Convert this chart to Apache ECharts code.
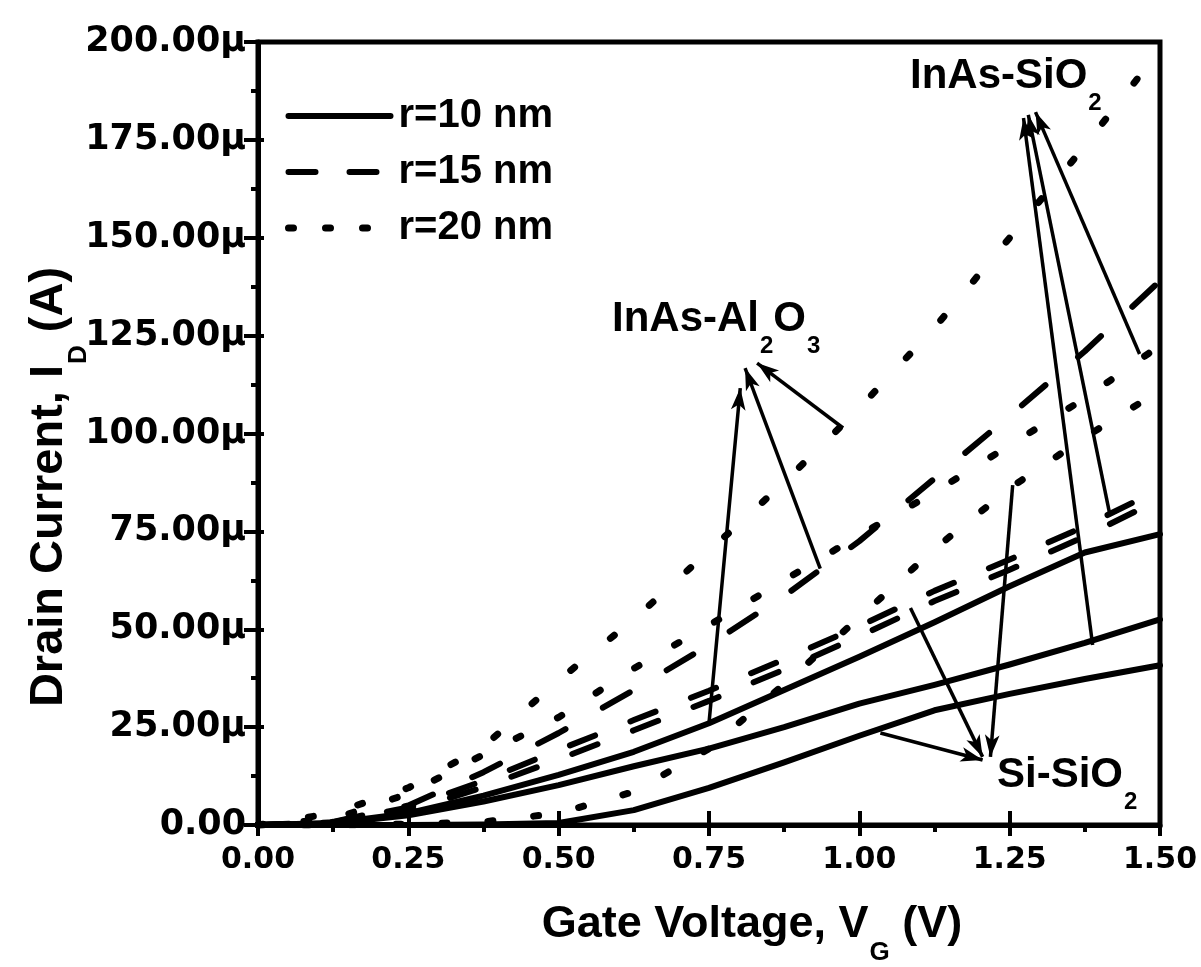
<!DOCTYPE html>
<html>
<head>
<meta charset="utf-8">
<title>Drain current vs gate voltage</title>
<script src="https://cdn.jsdelivr.net/npm/echarts@6/dist/echarts.min.js"></script>
<style>
  html, body { margin: 0; padding: 0; background: #fff; }
  #main { width: 1201px; height: 967px; }
</style>
</head>
<body>
<div id="main"></div>
<script>
// gate voltage (V), common for every curve
var vg = [0, 0.125, 0.25, 0.375, 0.5, 0.625, 0.75, 0.875, 1.0, 1.125, 1.25, 1.375, 1.5];

// drain current in uA
// r = 10 nm (solid)
var inasAl_r10 = [0, 0.5, 3, 7.5, 12.8, 18.7, 26, 34.5, 43, 51.8, 61, 69.6, 74.3];
var inasSi_r10 = [0, 0.4, 2.5, 6, 10.2, 15, 19.5, 25, 31, 35.8, 41, 46.5, 52.5];
var si_r10     = [0, 0, 0, 0.1, 0.5, 3.8, 9.5, 16, 22.8, 29.3, 33.5, 37.3, 40.8];
// r = 15 nm (dashed)
var inasAl_r15 = [0, 0.8, 5, 13.5, 23.5, 34.5, 46, 58.5, 72.5, 88.5, 104.5, 121, 139];
var inasSi_r15 = [0, 0.7, 4.5, 11.3, 19.2, 26.8, 34.3, 42.3, 50.8, 59.8, 67.8, 76.3, 85.8];
var si_r15     = [0, 0.5, 3.5, 9.7, 16.8, 24.2, 31.7, 39.7, 48.2, 57.2, 65.2, 73.7, 83.2];
// r = 20 nm (dotted)
var inasAl_r20 = [0, 3, 9.5, 20, 37, 52.5, 70, 87.5, 106.5, 127, 150, 173.5, 198];
var inasSi_r20 = [0, 1.5, 8, 18, 27.5, 40, 51, 62.5, 74, 85, 97, 109, 122.5];
var si_r20     = [0, 0, 0.2, 0.8, 3, 8.5, 19.5, 36, 53, 70.5, 86, 99, 111];

var legendNames = ['r=10 nm', 'r=15 nm', 'r=20 nm'];

// annotation arrows: [fromV, fromI, toV, toI]
var arrowsAl = [[0.75, 26, 0.802, 111.6], [0.935, 65.5, 0.81, 116.7], [0.973, 101.4, 0.83, 118]];
var arrowsInSi = [[1.388, 46, 1.273, 180.6], [1.416, 79.7, 1.281, 181.4], [1.466, 120.3, 1.293, 182.1]];
var arrowsSi = [[1.035, 23.5, 1.205, 16.6], [1.085, 55.4, 1.205, 17.4], [1.255, 86.8, 1.218, 17.4]];

var SOLID = 'solid';
var DASH_AL = [31, 43];
var DASH = [27, 38];
var DOT_AL = [5, 46];
var DOT = [5, 41];

var myChart = echarts.init(document.getElementById('main'));

function curve(name, vals, dash) {
	return {
		type: 'line',
		name: name,
		data: vg.map(function(v, i) { return [v, vals[i]]; }),
		symbol: 'none',
		silent: true,
		itemStyle: { color: '#000' },
		lineStyle: { color: '#000', width: (dash === DOT || dash === DOT_AL) ? 7 : 6, type: dash, cap: 'round', join: 'round' }
	};
}

var allArrows = arrowsAl.concat(arrowsInSi).concat(arrowsSi).map(function(a) {
	return [
		{ coord: [a[0], a[1]], symbol: 'none' },
		{ coord: [a[2], a[3]], symbol: 'arrow', symbolSize: [11, 22] }
	];
});

var series = [
	curve(legendNames[0], inasAl_r10, SOLID),
	curve(legendNames[0], inasSi_r10, SOLID),
	curve(legendNames[0], si_r10, SOLID),
	curve(legendNames[1], inasAl_r15, DASH_AL),
	curve(legendNames[1], inasSi_r15, DASH),
	curve(legendNames[1], si_r15, DASH),
	curve(legendNames[2], inasAl_r20, DOT_AL),
	curve(legendNames[2], inasSi_r20, DOT),
	curve(legendNames[2], si_r20, DOT)
];
series[0].markLine = {
	silent: true,
	animation: false,
	symbolSize: 12,
	label: { show: false },
	lineStyle: { color: '#000', width: 3.5, type: 'solid' },
	data: allArrows
};

var bold = 'Liberation Sans';
function rich(main, sub, pad) {
	return {
		m: { fontSize: main, fontWeight: 'bold', fontFamily: bold, fill: '#000', lineHeight: main + 8, verticalAlign: 'top' },
		s: { fontSize: sub, fontWeight: 'bold', fontFamily: bold, fill: '#000', lineHeight: sub, padding: [pad, 0, 0, 1], verticalAlign: 'top' }
	};
}

option = {
	animation: false,
	backgroundColor: '#fff',
	grid: { left: 258, right: 41, top: 42, bottom: 142, show: true, borderColor: '#000', borderWidth: 5 },
	legend: {
		data: [
			{ name: legendNames[0], lineStyle: { type: 'solid' } },
			{ name: legendNames[1], lineStyle: { type: [27, 34] } },
			{ name: legendNames[2], lineStyle: { type: [5, 32], width: 7 } }
		],
		orient: 'vertical',
		left: 285,
		top: 94,
		padding: 0,
		itemWidth: 102,
		itemHeight: 14,
		itemGap: 12,
		selectedMode: false,
		itemStyle: { color: 'rgba(0,0,0,0)', borderWidth: 0 },
		lineStyle: { color: '#000', width: 6, cap: 'round' },
		textStyle: { fontSize: 40, fontWeight: 'bold', fontFamily: bold, color: '#000', lineHeight: 44, padding: [0, 0, 0, 3] }
	},
	xAxis: [{
		type: 'value', min: 0, max: 1.5, interval: 0.25,
		axisLine: { lineStyle: { color: '#000', width: 5 } },
		axisTick: { inside: false, length: 11, lineStyle: { color: '#000', width: 4 } },
		minorTick: { show: true, splitNumber: 2, length: 7, lineStyle: { color: '#000', width: 4 } },
		splitLine: { show: false },
		axisLabel: {
			margin: 20, color: '#000', fontSize: 30, fontWeight: 'bold', fontFamily: 'DejaVu Sans',
			formatter: function(v) { return v.toFixed(2); }
		}
	}, {
		type: 'value', min: 0, max: 1.5, interval: 0.25, position: 'bottom',
		axisLine: { show: false },
		axisTick: { inside: true, length: 14, lineStyle: { color: '#000', width: 4 } },
		axisLabel: { show: false },
		splitLine: { show: false }
	}],
	yAxis: [{
		type: 'value', min: 0, max: 200, interval: 25,
		axisLine: { lineStyle: { color: '#000', width: 5 } },
		axisTick: { inside: false, length: 14, lineStyle: { color: '#000', width: 4 } },
		minorTick: { show: true, splitNumber: 2, length: 7, lineStyle: { color: '#000', width: 4 } },
		splitLine: { show: false },
		axisLabel: {
			margin: 12, color: '#000', fontSize: 35, fontWeight: 'bold', fontFamily: 'DejaVu Sans',
			formatter: function(v) { return v === 0 ? '0.00' : v.toFixed(2) + 'µ'; }
		}
	}, {
		type: 'value', min: 0, max: 200, interval: 25, position: 'left',
		axisLine: { show: false },
		axisTick: { inside: true, length: 6, lineStyle: { color: '#000', width: 4 } },
		axisLabel: { show: false },
		splitLine: { show: false }
	}],
	graphic: [
		{ type: 'text', x: 752, y: 902, z: 100,
			style: { text: '{m|Gate Voltage, V}{s|G}{m| (V)}', align: 'center', verticalAlign: 'top', rich: rich(45, 26, 38) } },
		{ type: 'text', x: 53, y: 487, rotation: Math.PI / 2, z: 100,
			style: { text: '{m|Drain Current, I}{s|D}{m| (A)}', align: 'center', verticalAlign: 'middle', rich: rich(47, 26, 40) } },
		{ type: 'text', x: 612, y: 298, z: 100,
			style: { text: '{m|InAs-Al}{s|2}{m|O}{s|3}', align: 'left', verticalAlign: 'top', rich: rich(42, 24, 36) } },
		{ type: 'text', x: 910, y: 55, z: 100,
			style: { text: '{m|InAs-SiO}{s|2}', align: 'left', verticalAlign: 'top', rich: rich(42, 24, 36) } },
		{ type: 'text', x: 997, y: 754, z: 100,
			style: { text: '{m|Si-SiO}{s|2}', align: 'left', verticalAlign: 'top', rich: rich(42, 24, 36) } }
	],
	series: series
};
myChart.setOption(option);
</script>
</body>
</html>
